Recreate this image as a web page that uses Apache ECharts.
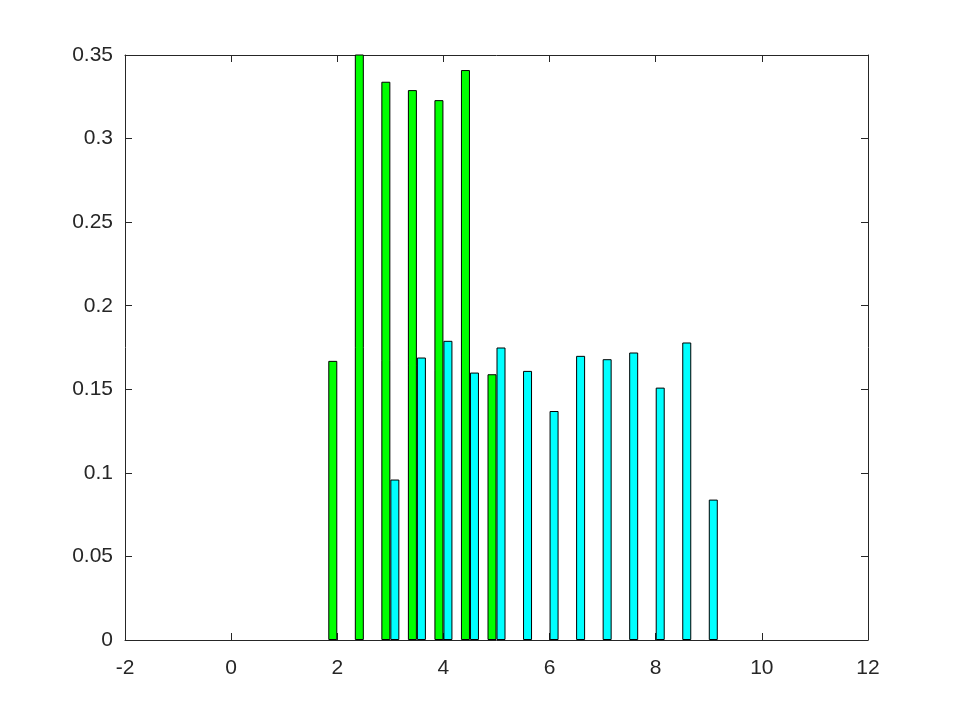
<!DOCTYPE html>
<html>
<head>
<meta charset="utf-8">
<script src="https://cdn.jsdelivr.net/npm/echarts@6/dist/echarts.min.js"></script>
<style>
  html, body { margin: 0; padding: 0; background: #fff; }
  #chart { width: 960px; height: 720px; }
</style>
</head>
<body>
<div id="chart"></div>
<script>
// green series: x from 2 to 5 step 0.5
var greenX = [2, 2.5, 3, 3.5, 4, 4.5, 5]
var greenY = [0.167, 0.36, 0.334, 0.329, 0.323, 0.341, 0.159]
// cyan series: x from 3 to 9 step 0.5
var cyanX = [3, 3.5, 4, 4.5, 5, 5.5, 6, 6.5, 7, 7.5, 8, 8.5, 9]
var cyanY = [0.096, 0.169, 0.179, 0.160, 0.175, 0.161, 0.137, 0.170, 0.168, 0.172, 0.151, 0.178, 0.084]
var xTicks = [-2, 0, 2, 4, 6, 8, 10, 12]
var yTicks = [0, 0.05, 0.1, 0.15, 0.2, 0.25, 0.3, 0.35]

var axisColor = '#262626'
var font = 'Liberation Sans, Arial, sans-serif'

function pairs(xs, ys) {
  return xs.map(function (x, i) { return [x, ys[i]] })
}

var chartDom = document.getElementById('chart')
var myChart = echarts.init(chartDom)

var xBase = {
  type: 'value',
  min: xTicks[0],
  max: xTicks[xTicks.length - 1],
  interval: 2,
  splitLine: { show: false },
  axisLine: { show: true, onZero: false, lineStyle: { color: axisColor, width: 1 } },
  axisTick: { show: true, inside: true, length: 7, lineStyle: { color: axisColor } },
}
var yBase = {
  type: 'value',
  min: yTicks[0],
  max: yTicks[yTicks.length - 1],
  interval: 0.05,
  splitLine: { show: false },
  axisLine: { show: true, onZero: false, lineStyle: { color: axisColor, width: 1 } },
  axisTick: { show: true, inside: true, length: 7, lineStyle: { color: axisColor } },
}

var option = {
  backgroundColor: '#fff',
  animation: false,
  grid: { left: 125, right: 92, top: 55, bottom: 80 },
  xAxis: [
    Object.assign({}, xBase, {
      position: 'bottom',
      axisLabel: { color: axisColor, fontSize: 21, fontFamily: font, margin: 18 },
    }),
    Object.assign({}, xBase, { position: 'top', axisLabel: { show: false } }),
  ],
  yAxis: [
    Object.assign({}, yBase, {
      position: 'left',
      axisLabel: {
        color: axisColor, fontSize: 21, fontFamily: font, margin: 12,
        formatter: function (v) { return String(+v.toFixed(2)) },
      },
    }),
    Object.assign({}, yBase, { position: 'right', axisLabel: { show: false } }),
  ],
  series: [
    {
      type: 'bar',
      xAxisIndex: 0,
      yAxisIndex: 0,
      data: pairs(greenX, greenY),
      barWidth: 9,
      barGap: '0%',
      clip: true,
      itemStyle: { color: '#00ff00', borderColor: '#000', borderWidth: 1 },
    },
    {
      type: 'bar',
      xAxisIndex: 0,
      yAxisIndex: 0,
      data: pairs(cyanX, cyanY),
      barWidth: 9,
      barGap: '0%',
      clip: true,
      itemStyle: { color: '#00ffff', borderColor: '#000', borderWidth: 1 },
    },
  ],
}

option && myChart.setOption(option)
</script>
</body>
</html>
